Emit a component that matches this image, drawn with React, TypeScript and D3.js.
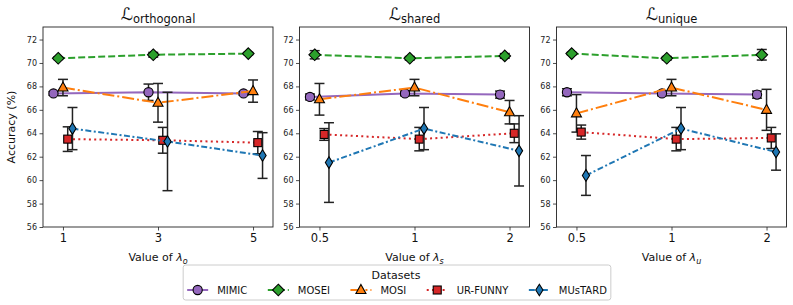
import { useEffect, useRef } from 'react'
import * as d3 from 'd3'

// datasets in plotting order
const datasets = ['MIMIC', 'MOSEI', 'MOSI', 'UR-FUNNY', 'MUsTARD']
const colors = ['#9467bd', '#2ca02c', '#ff7f0e', '#d62728', '#1f77b4']
const dashes = ['none', '7,3', '12,3,2,3', '2,3.3', '6,2.5,2,2.5']
const markers = ['circle', 'diamond', 'triangle', 'square', 'thin']
const offsets = [-0.1, -0.05, 0, 0.05, 0.1]

const titles = ['orthogonal', 'shared', 'unique']
const xSubs = ['o', 's', 'u']
const orthoTicks = ['1', '3', '5']
const sharedTicks = ['0.5', '1', '2']
const uniqueTicks = ['0.5', '1', '2']
const yTicks = [56, 58, 60, 62, 64, 66, 68, 70, 72]

// rows follow datasets
const orthoMean = [
    [67.4, 67.5, 67.4],
    [70.4, 70.7, 70.8],
    [67.9, 66.6, 67.6],
    [63.5, 63.4, 63.2],
    [64.4, 63.3, 62.1]
]
const orthoErr = [
    [0.15, 0.7, 0.15],
    [0.1, 0.2, 0.1],
    [0.7, 1.65, 0.95],
    [1.05, 1.1, 0.95],
    [1.8, 4.2, 1.95]
]
const sharedMean = [
    [67.1, 67.4, 67.3],
    [70.7, 70.4, 70.6],
    [66.9, 67.9, 65.8],
    [63.9, 63.5, 64.0],
    [61.5, 64.4, 62.5]
]
const sharedErr = [
    [0.25, 0.2, 0.3],
    [0.35, 0.15, 0.2],
    [1.35, 0.7, 1.0],
    [0.5, 1.0, 0.8],
    [3.4, 1.8, 3.0]
]
const uniqueMean = [
    [67.5, 67.4, 67.3],
    [70.8, 70.4, 70.7],
    [65.7, 67.9, 66.0],
    [64.1, 63.5, 63.6],
    [60.4, 64.4, 62.4]
]
const uniqueErr = [
    [0.3, 0.2, 0.3],
    [0.1, 0.15, 0.45],
    [1.6, 0.7, 1.75],
    [0.6, 1.0, 0.9],
    [1.7, 1.8, 1.55]
]

const panelMeans = [orthoMean, sharedMean, uniqueMean]
const panelErrs = [orthoErr, sharedErr, uniqueErr]
const panelTicks = [orthoTicks, sharedTicks, uniqueTicks]

const FONT = 'DejaVu Sans, sans-serif'

function drawMarker(g: any, kind: string, x: number, y: number, fill: string) {
    let sel
    if (kind === 'circle') {
        sel = g.append('circle').attr('cx', x).attr('cy', y).attr('r', 4.6)
    } else if (kind === 'square') {
        sel = g.append('rect').attr('x', x - 4).attr('y', y - 4).attr('width', 8).attr('height', 8)
    } else if (kind === 'triangle') {
        sel = g.append('path').attr('d', `M${x},${y - 5.5}L${x + 5},${y + 3.5}L${x - 5},${y + 3.5}Z`)
    } else if (kind === 'diamond') {
        sel = g.append('path').attr('d', `M${x},${y - 5.8}L${x + 5.8},${y}L${x},${y + 5.8}L${x - 5.8},${y}Z`)
    } else {
        sel = g.append('path').attr('d', `M${x},${y - 5.8}L${x + 3.6},${y}L${x},${y + 5.8}L${x - 3.6},${y}Z`)
    }
    sel.attr('fill', fill).attr('stroke', '#000').attr('stroke-width', 1.1)
}

function App() {
    const ref = useRef<SVGSVGElement>(null)

    useEffect(() => {
        const svg = d3.select(ref.current)
        svg.selectAll('*').remove()

        const lefts = [43, 299.5, 556.5]
        const pw = 230
        const top = 27
        const bottom = 227

        const yScale = d3.scaleLinear().domain([56, 73.07]).range([bottom, top])

        lefts.forEach((left, p) => {
            const xScale = d3.scaleLinear().domain([-0.21, 2.21]).range([left, left + pw])
            const g = svg.append('g')

            // y axis
            const ya = g.append('g')
                .attr('transform', `translate(${left},0)`)
                .call(d3.axisLeft(yScale).tickValues(yTicks).tickSize(3.5).tickPadding(2.5))
            ya.select('.domain').remove()
            ya.selectAll('text').attr('font-family', FONT).attr('font-size', 8).attr('fill', '#222')
            ya.selectAll('line').attr('stroke', '#222').attr('stroke-width', 0.8)

            // x axis
            const xa = g.append('g')
                .attr('transform', `translate(0,${bottom})`)
                .call(d3.axisBottom(xScale).tickValues([0, 1, 2]).tickFormat((d: any) => panelTicks[p][d]).tickSize(3.5).tickPadding(3))
            xa.select('.domain').remove()
            xa.selectAll('text').attr('font-family', FONT).attr('font-size', 11.5).attr('fill', '#111')
            xa.selectAll('line').attr('stroke', '#222').attr('stroke-width', 0.8)

            // frame
            g.append('rect')
                .attr('x', left).attr('y', top).attr('width', pw).attr('height', bottom - top)
                .attr('fill', 'none').attr('stroke', '#222').attr('stroke-width', 0.9)

            // title
            const t = g.append('text')
                .attr('x', left + pw / 2).attr('y', 20)
                .attr('text-anchor', 'middle').attr('font-family', FONT).attr('fill', '#111')
            t.append('tspan').attr('font-size', 17).text('ℒ')
            t.append('tspan').attr('font-size', 11.5).attr('dy', 3).text(titles[p])

            // x label
            const xl = g.append('text')
                .attr('x', left + pw / 2).attr('y', 261)
                .attr('text-anchor', 'middle').attr('font-family', FONT).attr('font-size', 11).attr('fill', '#111')
            xl.append('tspan').text('Value of ')
            xl.append('tspan').attr('font-style', 'italic').text('λ')
            xl.append('tspan').attr('font-style', 'italic').attr('font-size', 8).attr('dy', 2.5).text(xSubs[p])

            // series
            datasets.forEach((name, i) => {
                const means = panelMeans[p][i]
                const errs = panelErrs[p][i]
                const pts = means.map((m, k) => ({ x: k + offsets[i], y: m, e: errs[k] }))
                const sg = g.append('g')

                const line = d3.line<any>().x(d => xScale(d.x)).y(d => yScale(d.y))
                sg.append('path')
                    .datum(pts)
                    .attr('d', line)
                    .attr('fill', 'none')
                    .attr('stroke', colors[i])
                    .attr('stroke-width', 2)
                    .attr('stroke-dasharray', dashes[i])

                pts.forEach(d => {
                    const cx = xScale(d.x)
                    const y1 = yScale(d.y + d.e)
                    const y2 = yScale(d.y - d.e)
                    sg.append('line').attr('x1', cx).attr('x2', cx).attr('y1', y1).attr('y2', y2)
                        .attr('stroke', '#222').attr('stroke-width', 1.5)
                    ;[y1, y2].forEach(yy => {
                        sg.append('line').attr('x1', cx - 5).attr('x2', cx + 5).attr('y1', yy).attr('y2', yy)
                            .attr('stroke', '#222').attr('stroke-width', 1.5)
                    })
                })
                pts.forEach(d => drawMarker(sg, markers[i], xScale(d.x), yScale(d.y), colors[i]))
            })
        })

        // y label
        svg.append('text')
            .attr('transform', `translate(15,${(top + bottom) / 2}) rotate(-90)`)
            .attr('text-anchor', 'middle').attr('font-family', FONT).attr('font-size', 11).attr('fill', '#111')
            .text('Accuracy (%)')

        // legend
        const lg = svg.append('g')
        const box = lg.append('rect')
        lg.append('text')
            .attr('x', 396).attr('y', 279)
            .attr('text-anchor', 'middle').attr('font-family', FONT).attr('font-size', 11).attr('fill', '#111')
            .text('Datasets')
        const items = lg.append('g')
        let x = 0
        datasets.forEach((name, i) => {
            const yy = 290
            items.append('line').attr('x1', x).attr('x2', x + 21).attr('y1', yy).attr('y2', yy)
                .attr('stroke', colors[i]).attr('stroke-width', 2).attr('stroke-dasharray', dashes[i])
            drawMarker(items, markers[i], x + 10.5, yy, colors[i])
            const tx = items.append('text').attr('x', x + 30).attr('y', yy + 3.5)
                .attr('font-family', FONT).attr('font-size', 10).attr('fill', '#111').text(name)
            const w = (tx.node() as SVGTextElement).getComputedTextLength()
            x = x + 30 + w + (i < datasets.length - 1 ? 20.5 : 0)
        })
        const startX = 396 - x / 2 + 1
        items.attr('transform', `translate(${startX},0)`)
        box.attr('x', startX - 4).attr('y', 265).attr('width', x + 8).attr('height', 35)
            .attr('rx', 2.5).attr('fill', '#fff').attr('stroke', '#ccc').attr('stroke-width', 1)
    }, [])

    return (
        <svg
            ref={ref}
            width={793}
            height={305}
            style={{ position: 'absolute', left: 0, top: 0, background: '#fff' }}
        />
    )
}

export default App
